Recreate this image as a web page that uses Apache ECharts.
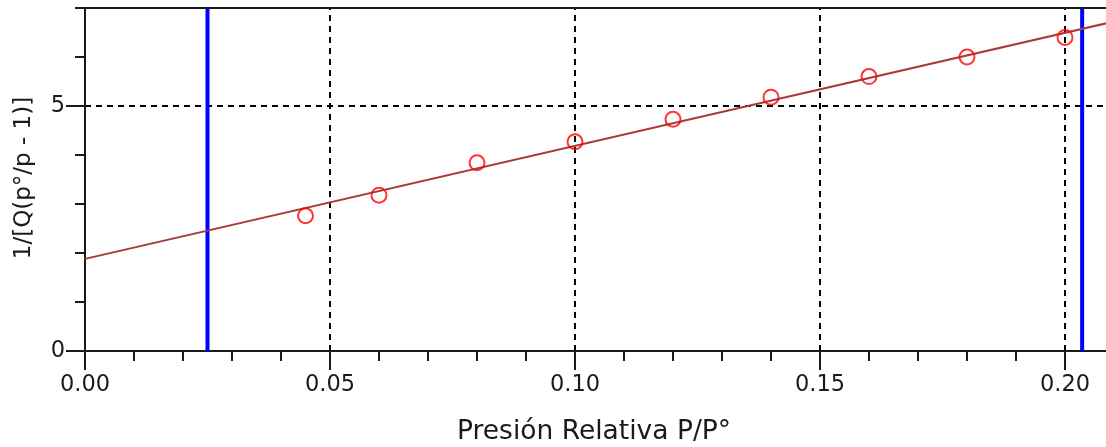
<!DOCTYPE html>
<html>
<head>
<meta charset="utf-8">
<script src="https://cdn.jsdelivr.net/npm/echarts@6/dist/echarts.min.js"></script>
<style>
  html, body { margin: 0; padding: 0; background: #fff; }
  #chart { width: 1106px; height: 447px; }
</style>
</head>
<body>
<div id="chart"></div>
<script>
// Measured points: relative pressure vs. BET transform
const pressure = [0.045, 0.06, 0.08, 0.10, 0.12, 0.14, 0.16, 0.18, 0.20];
const betValue = [2.76, 3.18, 3.84, 4.27, 4.73, 5.18, 5.60, 6.00, 6.40];

// Fitted straight line (end points)
const fitX = [0, 0.22];
const fitY = [1.88, 6.955];

// Limits of the linear range
const rangeLimits = [0.025, 0.2035];

// Axis settings
const xTicks = ['0.00', '0.05', '0.10', '0.15', '0.20'];
const yTopValue = 7;
const xTitle = 'Presión Relativa P/P°';
const yTitle = '1/[Q(p°/p - 1)]';

const FONT = 'DejaVu Sans';
const TXT = '#1a1a1a';

const chart = echarts.init(document.getElementById('chart'), null, { renderer: 'canvas' });

const points = pressure.map((x, i) => [x, betValue[i]]);
const fitLine = fitX.map((x, i) => [x, fitY[i]]);
const limitSeries = rangeLimits.map(x => ({
  type: 'line',
  data: [[x, 0], [x, yTopValue]],
  symbol: 'none',
  lineStyle: { color: '#0000ff', width: 4 },
  silent: true,
  z: 3
}));

chart.setOption({
  animation: false,
  backgroundColor: '#fff',
  // the axes run past the right and top edges of the canvas
  grid: { left: 85, top: -139, width: 1078, height: 490, outerBoundsMode: 'none', containLabel: false },
  xAxis: {
    type: 'value',
    min: 0,
    max: 0.22,
    interval: 0.05,
    axisLine: { show: true, onZero: false, lineStyle: { color: TXT, width: 2 } },
    axisTick: { show: true, inside: false, length: 19, lineStyle: { color: TXT, width: 2 } },
    minorTick: { show: true, splitNumber: 5, length: 10, lineStyle: { color: TXT, width: 2 } },
    axisLabel: {
      show: true, margin: 23, color: TXT, fontFamily: FONT, fontSize: 22.5,
      showMaxLabel: false,
      formatter: v => {
        const s = v.toFixed(2);
        return xTicks.includes(s) ? s : '';
      }
    },
    splitLine: {
      show: true, showMinLine: false,
      lineStyle: { color: '#000', width: 2, type: [6, 5] }
    }
  },
  yAxis: {
    type: 'value',
    min: 0,
    max: 10,
    interval: 5,
    axisLine: { show: true, onZero: false, lineStyle: { color: TXT, width: 2 } },
    axisTick: { show: true, inside: false, length: 19, lineStyle: { color: TXT, width: 2 } },
    minorTick: { show: true, splitNumber: 5, length: 10, lineStyle: { color: TXT, width: 2 } },
    axisLabel: { show: true, margin: 20, color: TXT, fontFamily: FONT, fontSize: 22.5 },
    splitLine: {
      show: true, showMinLine: false,
      lineStyle: { color: '#000', width: 2, type: [6, 5] }
    }
  },
  graphic: [
    // blank band above the plot frame
    { type: 'rect', left: 0, top: 0, shape: { width: 1106, height: 7 }, style: { fill: '#fff' }, z: 100 },
    {
      type: 'text', x: 594, y: 432, z: 101,
      style: { text: xTitle, font: '26.5px "' + FONT + '"', fill: TXT, align: 'center', verticalAlign: 'middle' }
    },
    {
      type: 'text', x: 24, y: 178, rotation: Math.PI / 2, z: 101,
      style: { text: yTitle, font: '23px "' + FONT + '"', fill: TXT, align: 'center', verticalAlign: 'middle' }
    }
  ],
  series: [
    {
      type: 'line',
      data: [[0, yTopValue], [0.22, yTopValue]],
      symbol: 'none',
      lineStyle: { color: TXT, width: 2 },
      silent: true,
      z: 4
    },
    ...limitSeries,
    {
      type: 'line',
      data: fitLine,
      symbol: 'none',
      lineStyle: { color: '#a83a3a', width: 2 },
      silent: true,
      z: 5
    },
    {
      type: 'scatter',
      data: points,
      symbol: 'circle',
      symbolSize: 15,
      itemStyle: { color: 'rgba(0,0,0,0)', borderColor: '#ff0000', borderWidth: 2 },
      silent: true,
      z: 6
    }
  ]
});
</script>
</body>
</html>
